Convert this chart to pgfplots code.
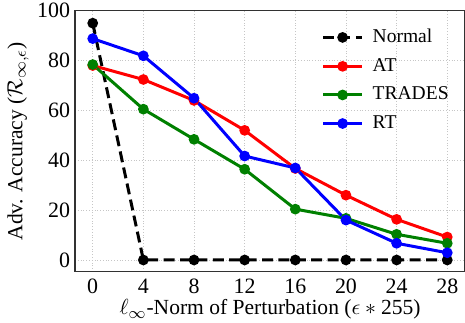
\documentclass[border=0pt]{standalone}
\usepackage{pgfplots}
\pgfplotsset{compat=1.18}
\usepackage{fontspec}
\setmainfont{Liberation Serif}
\definecolor{spine}{RGB}{50,50,50}
\begin{document}
\fontsize{10.5}{12}\selectfont
\begin{tikzpicture}
\begin{axis}[
  name=ax,
  scale only axis,
  width=195bp, height=130.5bp,
  xmin=-1.4, xmax=29.4, ymin=-4.7, ymax=100,
  xtick={0,4,8,12,16,20,24,28},
  xticklabels={0,4,8,12,16,20,24,28},
  ytick={0,20,40,60,80,100},
  yticklabels={0,20,40,60,80,100},
  major tick length=0pt,
  tick label style={font=\rmfamily\fontsize{11}{12}\selectfont},
  yticklabel style={xshift=1.2bp},
  grid=major,
  grid style={densely dotted, gray!45, line width=0.4pt},
  axis line style={spine, line width=0.7pt},
  xlabel={$\ell_\infty$-Norm of Perturbation ($\epsilon * \mbox{255}$)},
  ylabel={Adv. Accuracy ($\mathcal{R}_{\infty,\epsilon}$)},
  label style={font=\rmfamily\fontsize{10.8}{12}\selectfont},
  xlabel style={at={(0.5,0)}, anchor=center, yshift=-19bp},
  ylabel style={at={(0,0.5)}, anchor=center, yshift=28.5bp},
  legend style={draw=none, fill=none, at={(1,1)}, anchor=north east,
    xshift=-3bp, yshift=-5bp, column sep=2.5bp,
    font=\rmfamily\fontsize{9.8}{12}\selectfont, row sep=2.3bp},
  legend cell align=left,
  legend image code/.code={
    \draw[mark repeat=2,mark phase=2] plot coordinates {(0bp,0bp) (9.8bp,0bp) (19.6bp,0bp)};},
  every axis plot/.append style={line width=1.5pt, mark=*, mark size=1.9pt},
]
\addplot[black, dash pattern=on 5.5bp off 2.7bp, mark options={solid}] coordinates {(0,95) (4,0) (8,0) (12,0) (16,0) (20,0) (24,0) (28,0)};
\addlegendentry{Normal}
\addplot[red] coordinates {(0,78) (4,72.4) (8,64) (12,52) (16,36.7) (20,26) (24,16.3) (28,9.2)};
\addlegendentry{AT}
\addplot[green!50!black] coordinates {(0,78.4) (4,60.5) (8,48.4) (12,36.4) (16,20.4) (20,16.7) (24,10.3) (28,6.7)};
\addlegendentry{TRADES}
\addplot[blue] coordinates {(0,88.8) (4,81.9) (8,64.9) (12,41.7) (16,36.9) (20,16) (24,6.7) (28,2.9)};
\addlegendentry{RT}
\end{axis}
\pgfresetboundingbox
\path[use as bounding box] ([xshift=-37.5bp,yshift=-25.65bp]ax.south west) rectangle ([yshift=5.35bp]ax.north east);
\end{tikzpicture}
\end{document}
